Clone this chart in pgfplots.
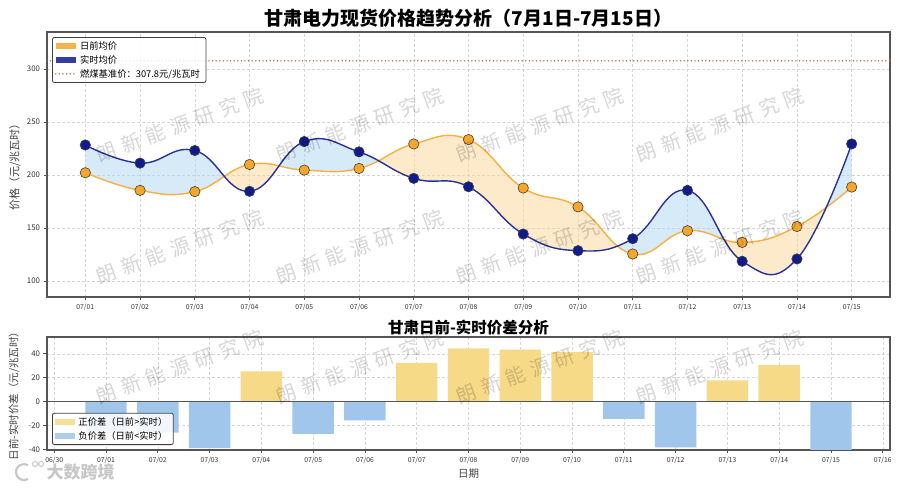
\documentclass[border=0pt]{standalone}
\usepackage{fontspec}
\setmainfont{Noto Sans CJK SC}
\usepackage{pgfplots}
\usepackage{pgfplotstable}
\pgfplotsset{compat=1.18}
\usepgfplotslibrary{fillbetween}

\definecolor{daline}{RGB}{245,176,65}
\definecolor{damark}{RGB}{246,166,40}
\definecolor{rtline}{RGB}{40,50,150}
\definecolor{rtmark}{RGB}{16,28,140}
\definecolor{bluefill}{RGB}{174,214,241}
\definecolor{orangefill}{RGB}{251,213,150}
\definecolor{coalline}{RGB}{196,101,56}
\definecolor{posbar}{RGB}{246,218,136}
\definecolor{negbar}{RGB}{160,198,236}
\definecolor{framecol}{RGB}{85,85,85}

\pgfplotstableread{
x da rt
1 202.2 228.4
2 185.6 211.3
3 184.4 223.2
4 210.0 184.7
5 204.7 231.6
6 206.3 221.9
7 229.4 196.9
8 233.5 189.0
9 187.8 144.4
10 170.0 128.7
11 125.6 140.0
12 147.5 185.6
13 136.5 118.7
14 151.5 120.9
15 188.7 229.4
}\prices

\pgfplotsset{
  common/.style={
    scale only axis, width=843pt,
    tick align=outside, tick pos=left,
    major tick length=3.5pt,
    grid=major, grid style={densely dashed, black!16, line width=0.5pt},
    axis line style={draw=framecol, line width=1.1pt},
    every tick/.style={draw=framecol, line width=0.7pt},
    /pgf/number format/assume math mode=true,
    yticklabel style={font=\fontsize{7.8}{8}\selectfont, text=black!80},
    xticklabel style={font=\fontsize{6.8}{7}\selectfont, text=black!80},
    legend cell align=left,
  },
  patchlegend/.style={legend image code/.code={\fill[##1, draw=none, sharp corners] (0pt,-3.2pt) rectangle (20pt,3.2pt);}},
  linelegend/.style={legend image code/.code={\draw[##1, sharp corners] (0pt,0pt) -- (20pt,0pt);}},
  mylegend/.style={draw=black!75, line width=0.8pt, rounded corners=2pt, fill=white,
    fill opacity=0.85, text opacity=1, font=\fontsize{9.3}{10}\selectfont,
    row sep=1.5pt, inner sep=2.5pt, nodes={inner xsep=3.5pt, inner ysep=1.5pt}},
}

\begin{document}
\begin{tikzpicture}
\path (0,0) rectangle (900pt,489pt);

% ---------------- top chart ----------------
\begin{axis}[common,
  at={(47pt,192pt)}, anchor=south west, height=265pt,
  xmin=0.3, xmax=15.7, ymin=85, ymax=335,
  xtick={1,...,15},
  xticklabels={07/01,07/02,07/03,07/04,07/05,07/06,07/07,07/08,07/09,07/10,07/11,07/12,07/13,07/14,07/15},
  ytick={100,150,200,250,300},
  ylabel={价格（元/兆瓦时）},
  ylabel style={at={(axis description cs:-0.038,0.5)}, anchor=center, font=\fontsize{11}{12}\selectfont, text=black!75},
  title={甘肃电力现货价格趋势分析（7月1日-7月15日）},
  title style={at={(axis description cs:0.5,1)}, anchor=center, yshift=8pt, font=\fontsize{19}{20}\selectfont\bfseries},
  legend style={mylegend, at={(axis description cs:0.006,0.981)}, anchor=north west},
]
\addlegendimage{patchlegend, fill=damark}
\addlegendentry{日前均价}
\addlegendimage{patchlegend, fill=rtmark}
\addlegendentry{实时均价}
\addplot[coalline, line cap=round, dash pattern=on 0pt off 3.6pt, line width=1.6pt, linelegend]
  coordinates {(0.3,307.8) (15.7,307.8)};
\addlegendentry{燃煤基准价：307.8元/兆瓦时}

\addplot[name path=da, draw=none, smooth, tension=0.75, forget plot] table[x=x, y=da] {\prices};
\addplot[name path=rt, draw=none, smooth, tension=0.75, forget plot] table[x=x, y=rt] {\prices};
\addplot[forget plot] fill between[of=rt and da, split,
  every even segment/.style={fill=bluefill, fill opacity=0.5},
  every odd segment/.style={fill=orangefill, fill opacity=0.5}];

\addplot[forget plot, daline, line width=1.4pt, smooth, tension=0.75] table[x=x, y=da] {\prices};
\addplot[forget plot, rtline, line width=1.4pt, smooth, tension=0.75] table[x=x, y=rt] {\prices};
\addplot[forget plot, only marks, mark=*, mark size=5.2pt, mark options={fill=damark, draw=black!75, line width=0.6pt}] table[x=x, y=da] {\prices};
\addplot[forget plot, only marks, mark=*, mark size=5.2pt, mark options={fill=rtmark, draw=black!75, line width=0.6pt}] table[x=x, y=rt] {\prices};
\end{axis}

% ---------------- bottom chart ----------------
\begin{axis}[common,
  at={(47pt,39pt)}, anchor=south west, height=113pt,
  xmin=-0.14, xmax=16.14, ymin=-40.3, ymax=54,
  xtick={0,...,16},
  xticklabels={06/30,07/01,07/02,07/03,07/04,07/05,07/06,07/07,07/08,07/09,07/10,07/11,07/12,07/13,07/14,07/15,07/16},
  ytick={-40,-20,0,20,40},
  xlabel={日期},
  xlabel style={font=\fontsize{10.5}{11}\selectfont, text=black!75, yshift=2pt},
  ylabel={日前-实时价差（元/兆瓦时）},
  ylabel style={at={(axis description cs:-0.039,0.5)}, anchor=center, font=\fontsize{10.5}{11}\selectfont, text=black!75},
  title={甘肃日前-实时价差分析},
  title style={at={(axis description cs:0.5,1)}, anchor=center, yshift=3pt, font=\fontsize{15.5}{16}\selectfont\bfseries},
  legend style={mylegend, at={(axis description cs:0.006,0.044)}, anchor=south west},
]
\addplot[ybar, bar width=0.8, bar shift=0pt, fill=posbar, draw=none, patchlegend]
  coordinates {(4,25.3) (7,32.5) (8,44.5) (9,43.4) (10,41.3) (13,17.8) (14,30.6)};
\addlegendentry{正价差（日前>实时）}
\addplot[ybar, bar width=0.8, bar shift=0pt, fill=negbar, draw=none, patchlegend]
  coordinates {(1,-26.2) (2,-25.7) (3,-38.8) (5,-26.9) (6,-15.6) (11,-14.4) (12,-38.1) (15,-40.7)};
\addlegendentry{负价差（日前<实时）}
\addplot[forget plot, framecol, line width=1.1pt] coordinates {(-0.14,0) (16.14,0)};
\end{axis}

% ---------------- watermarks ----------------
\foreach \wx in {180,360,540,720}{
  \foreach \wy in {364,242,122}{
    \node[rotate=20, text=black, opacity=0.16, font=\fontsize{20}{22}\selectfont]
      at (\wx pt,\wy pt) {朗\hspace{6pt}新\hspace{6pt}能\hspace{6pt}源\hspace{6pt}研\hspace{6pt}究\hspace{6pt}院};
  }
}
\draw[black!22, line width=2.2pt] (28pt,10pt) arc[start angle=-60, end angle=-300, radius=8pt];
\draw[black!22, line width=1pt] (35pt,25pt) circle (2.5pt) (41pt,25pt) circle (2.5pt);
\node[text=black!22, font=\fontsize{17}{18}\selectfont\bfseries, anchor=west] at (43pt,17pt) {大数跨境};
\end{tikzpicture}
\end{document}
